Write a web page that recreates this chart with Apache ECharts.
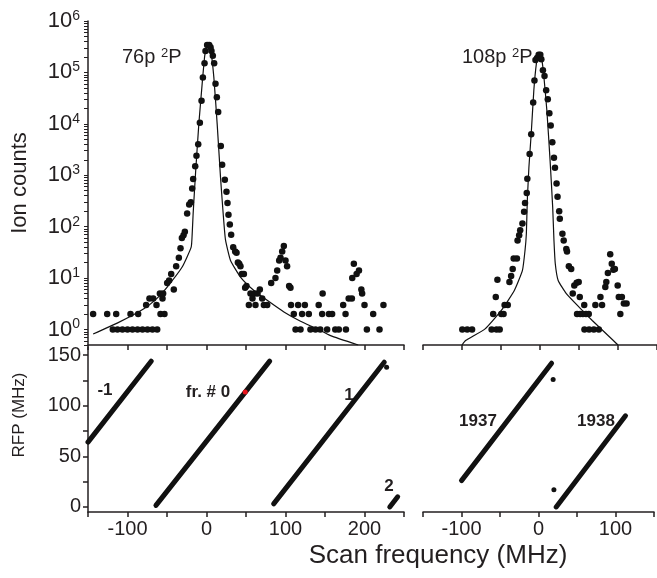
<!DOCTYPE html>
<html><head><meta charset="utf-8">
<script src="https://cdn.jsdelivr.net/npm/echarts@6/dist/echarts.min.js"></script>
<style>html,body{margin:0;padding:0;background:#fff}#c{width:657px;height:578px}</style>
</head><body><div id="c"></div><script>
// ---- top-left panel: 76p 2P ----
const scan76 = [-143.5,-125.7,-118.6,-114.3,-112.7,-106.4,-100,-96.2,-93.7,-87.3,-86.5,-81,-76.4,-74.7,-72.2,-68.4,-67.5,-63.3,-62.4,-59,-58.2,-55.7,-54.9,-53.2,-49.8,-47.3,-44.7,-41.4,-38.4,-35,-32.9,-31.2,-29.1,-27.4,-24.5,-21.9,-19.8,-18.1,-16.9,-14.3,-12.7,-10.5,-8.4,-6.3,-4.6,-2.5,-1.3,0.8,3.4,5.1,6.3,8,9.7,11.4,13.1,14.8,18.1,19.8,23.2,25.3,26.6,27.8,29.5,31.2,33.8,36.3,38,39.7,41.4,43,44.7,47.3,48.9,50.6,53.6,55.7,58.2,60.8,62,64.6,67.5,70.5,72.6,76.8,81.9,87.3,89.5,92,93.7,95.8,97.9,100,102,104.6,106.3,107,110.5,112.7,116,119,121,124.5,129.5,131.6,138,142,144,146.4,147,152.7,155,159,163,167.5,173,176,176.5,180,184,184.5,186.5,190,193,196,197,200,203,211,219,224];
const count76 = [2,2,1,2,1,1,1,2,1,1,2,1,3,1,4,1,4,3,1,5,2,4,5,2,8,9,12,6,17,25,38,60,68,80,180,270,300,550,850,1500,2400,4000,10500,28000,80000,150000,260000,340000,340000,310000,260000,210000,150000,60000,33000,17000,3700,1600,820,480,290,170,110,70,40,33,31,20,19,17,12,12,6.5,7,3,5,4,5,3,5,6,4,3,3,8,10,14,22,25,33,42,22,17,7,6.5,3,2,1,3,1,2,3,2,1,1,3,1,2,5,1,2,2,1,1,3,2,1,4,4,10,19,12,14,6,5,3,1,2,1,3];
const fitScan76 = [-143.5,-113,-79.3,-62.4,-49.8,-30.8,-19.4,-18.1,-16.9,-13.9,-9.7,-5.5,-2.1,1.7,5.1,9.3,13.5,17.7,21.1,24,30.4,43,60,76.8,98,119,140,157,192];
const fitCount76 = [0.82,1.33,2.53,4.08,6.7,16.4,40,73,180,1080,10000,60000,220000,370000,290000,80000,10000,930,180,56,22,10.5,5.75,3.7,2.2,1.45,1.03,0.76,0.5];

// ---- top-right panel: 108p 2P ----
const scan108 = [-99.6,-93.3,-87.1,-62,-60,-56.7,-55.8,-54.6,-51.7,-49.6,-46.7,-45.4,-41.3,-39.2,-37,-35,-33.75,-29.6,-28.75,-26.7,-25.4,-22.5,-20.4,-19.2,-17,-16.25,-13.3,-11.25,-8.75,-7.1,-5.8,-3.75,-1.7,0.4,1.7,3.75,5.8,7.9,10,12,13.75,15.8,17.9,19.2,21.25,22.5,24.6,25.4,28.75,30.4,33.75,34.6,37,40,42,44,47,47.5,49.6,51,51.5,55,56.7,57,59,62.5,63,69,71,75.4,77.5,79.6,83.75,85,87,90,92,94,96,99.6,101,103,105,107.5,111];
const count108 = [1,1,1,1,2,4.3,1,9.3,1,2,2,3,3,8.4,11,15,24,24,54,68,85,115,195,290,450,860,2600,6300,26000,70000,175000,190000,220000,220000,180000,110000,85000,45000,30000,16000,9300,4400,2200,1400,690,380,200,143,73,54,37,33,17,15,5,7.2,8.1,2,8.4,4.3,2,2,3,1,2,2,1,1,3,1,4.3,3,6.7,8.4,12.5,29,19,14.5,15,7.2,4.3,2,4.3,3.2,3.2];
const fitScan108 = [-100,-95.4,-70.4,-49.6,-32.9,-22.5,-19.2,-17.5,-16.25,-14.2,-11.25,-7.9,-4.6,-1.7,1.25,4.6,8.75,12.9,16.25,17.9,19.6,23.3,33.75,50.4,67,94,100];
const fitCount108 = [0.5,0.61,1.03,2.35,5.75,14.1,34.6,73,330,1450,6500,45000,150000,235000,220000,95000,18600,1970,243,54,19,9,5,2.7,1.5,0.61,0.5];

// ---- bottom panels: RFP vs scan, frame lines (end points) ----
const frameMinus1 = [[-150,64],[-70,144]];
const frame0 = [[-64,1.5],[80,144]];
const frame1 = [[85,3],[225,143]];
const frame2 = [[232,0],[242,10]];
const frame1937 = [[-100,26],[17,142]];
const frame1938 = [[23,0],[113,90]];
const strayLeft = [[228,138]];
const strayRight = [[19,126],[20,17]];
const markedPoint = [[49,113.5]];

// ticks / labels
const logTicks = [];
for (let e = -1; e < 6; e++) for (let m = 1; m < 10; m++) { const v = m * Math.pow(10, e); if (v >= 0.5) logTicks.push(+v.toPrecision(3)); }
logTicks.push(1e6);
const logLabels = [1,10,100,1000,10000,100000,1000000];
const rfpTicks = [0,25,50,75,100,125,150];
const rfpLabels = [0,50,100,150];

const FONT = '"Liberation Sans", Arial, Helvetica, sans-serif';
const INK = '#231f20';
const zip = (a,b) => a.map((v,i) => [v, b[i]]);

const chart = echarts.init(document.getElementById('c'), null, {renderer:'canvas'});

function xAx(grid, min, max, showLabels) {
  return {
    type:'value', gridIndex:grid, min:min, max:max, interval:50,
    axisLine:{show:true, onZero:false, lineStyle:{color:INK, width:1.5}},
    axisTick:{show:true, inside:false, length:5, lineStyle:{color:INK, width:1.5}},
    axisLabel:{show:showLabels, fontSize:20, color:INK, fontFamily:FONT, margin:7,
      formatter: v => (Math.abs(v % 100) < 1e-9 && v > min && v < max) ? String(v) : ''},
    splitLine:{show:false}
  };
}
function logY(grid, show) {
  return {
    type:'log', logBase:10, gridIndex:grid, min:0.5, max:1e6,
    axisLine:{show:show, onZero:false, lineStyle:{color:INK, width:1.5}},
    axisTick:{show:show, inside:false, length:4, customValues:logTicks, lineStyle:{color:INK, width:1}},
    axisLabel:{show:show, customValues:logLabels, margin:8, color:INK, fontFamily:FONT,
      formatter: v => '{b|10}{s|' + Math.round(Math.log10(v)) + '}',
      rich:{b:{fontSize:22, fontFamily:FONT, color:INK}, s:{fontSize:14, fontFamily:FONT, color:INK, verticalAlign:'top', padding:[0,0,10,0]}}},
    splitLine:{show:false}
  };
}
function rfpY(grid, show) {
  return {
    type:'value', gridIndex:grid, min:-5, max:158,
    axisLine:{show:show, onZero:false, lineStyle:{color:INK, width:1.5}},
    axisTick:{show:show, inside:false, length:5, customValues:rfpTicks, lineStyle:{color:INK, width:1.5}},
    axisLabel:{show:show, customValues:rfpLabels, fontSize:20, color:INK, fontFamily:FONT, margin:7},
    splitLine:{show:false}
  };
}
const lineStyle5 = {color:'#111', width:5, cap:'round'};
function frameLine(data, xi, yi) {
  return {type:'line', xAxisIndex:xi, yAxisIndex:yi, data:data, showSymbol:false, silent:true,
    lineStyle:lineStyle5, animation:false};
}
const txt = (t, x, y, size, weight, rot) => ({
  type:'text', x:x, y:y, rotation:rot || 0,
  style:{text:t, fontSize:size, fontWeight:weight || 'normal', fontFamily:FONT, fill:INK,
    textAlign:'center', textVerticalAlign:'middle', align:'center', verticalAlign:'middle'}
});
const dotStyle = {color:'#111', opacity:1};

chart.setOption({
  animation:false,
  backgroundColor:'#fff',
  grid:[
    {left:88, top:21, width:316, height:324},
    {left:423, top:21, width:240, height:324},
    {left:88, top:347, width:316, height:165},
    {left:423, top:347, width:240, height:165}
  ],
  xAxis:[xAx(0,-150,250,false), xAx(1,-150,150,false), xAx(2,-150,250,true), xAx(3,-150,150,true)],
  yAxis:[logY(0,true), logY(1,false), rfpY(2,true), rfpY(3,false)],
  title:[
    {text:'76p {s|2}P', left:117, top:42, textStyle:{fontSize:20, fontWeight:'normal', color:INK, fontFamily:FONT,
      rich:{s:{fontSize:13, color:INK, fontFamily:FONT, verticalAlign:'top', padding:[0,0,8,0]}}}},
    {text:'108p {s|2}P', left:457, top:42, textStyle:{fontSize:20, fontWeight:'normal', color:INK, fontFamily:FONT,
      rich:{s:{fontSize:13, color:INK, fontFamily:FONT, verticalAlign:'top', padding:[0,0,8,0]}}}}
  ],
  graphic:[
    txt('Ion counts', 20, 183, 22, 'normal', Math.PI/2),
    txt('RFP (MHz)', 19, 415, 17, 'normal', Math.PI/2),
    txt('Scan frequency (MHz)', 438, 556, 26, 'normal'),
    txt('-1', 105, 390, 17, 'bold'),
    txt('fr. # 0', 208, 392, 17, 'bold'),
    txt('1', 349, 395, 17, 'bold'),
    txt('2', 389, 486, 17, 'bold'),
    txt('1937', 478, 421, 17, 'bold'),
    txt('1938', 596, 421, 17, 'bold')
  ],
  series:[
    {type:'line', xAxisIndex:0, yAxisIndex:0, data:zip(fitScan76, fitCount76), showSymbol:false, smooth:0.15,
      lineStyle:{color:'#111', width:1.2}, z:2},
    {type:'scatter', xAxisIndex:0, yAxisIndex:0, data:zip(scan76, count76), symbolSize:6.5,
      itemStyle:dotStyle, z:3},
    {type:'line', xAxisIndex:1, yAxisIndex:1, data:zip(fitScan108, fitCount108), showSymbol:false, smooth:0.15,
      lineStyle:{color:'#111', width:1.2}, z:2},
    {type:'scatter', xAxisIndex:1, yAxisIndex:1, data:zip(scan108, count108), symbolSize:6.5,
      itemStyle:dotStyle, z:3},
    frameLine(frameMinus1,2,2), frameLine(frame0,2,2), frameLine(frame1,2,2), frameLine(frame2,2,2),
    frameLine(frame1937,3,3), frameLine(frame1938,3,3),
    {type:'scatter', xAxisIndex:2, yAxisIndex:2, data:strayLeft, symbolSize:5, itemStyle:dotStyle},
    {type:'scatter', xAxisIndex:3, yAxisIndex:3, data:strayRight, symbolSize:5, itemStyle:dotStyle},
    {type:'scatter', xAxisIndex:2, yAxisIndex:2, data:markedPoint, symbolSize:5, itemStyle:{color:'#e8141c', opacity:1}, z:5}
  ]
});
</script></body></html>
